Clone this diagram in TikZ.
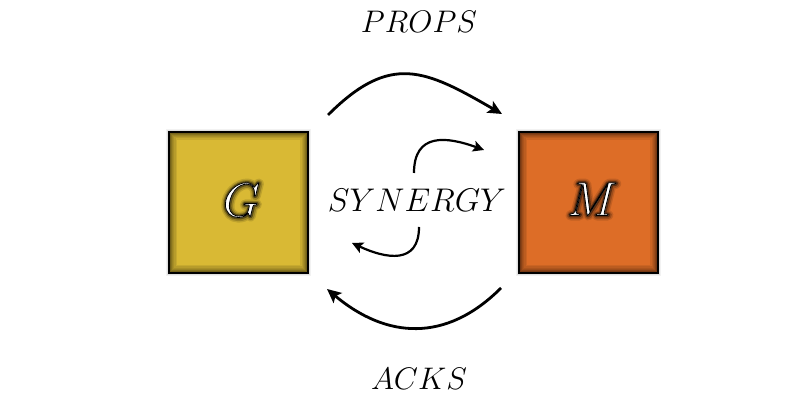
\RequirePackage{fix-cm}
\documentclass[tikz,border=0pt]{standalone}
\usetikzlibrary{arrows.meta}
\definecolor{gold}{RGB}{217,185,52}
\definecolor{orng}{RGB}{221,109,39}
\newcommand\strokedtext[2]{\special{pdf:literal direct #1 w 1 j 0 0 0 RG 2 Tr}#2\special{pdf:literal direct 0 Tr}}
\tikzset{
  box/.style={minimum width=69.5pt, minimum height=70.5pt, inner sep=0pt, outer sep=0pt},
  flow/.style={line width=1.4pt, -{Stealth[length=7pt,width=6.5pt,inset=1.5pt]}},
  swirl/.style={line width=1.1pt, -{Stealth[length=5.5pt,width=5.5pt,inset=1.2pt]}},
  word/.style={inner sep=0pt, anchor=base, font=\fontsize{16.4}{19}\selectfont},
  label/.style={inner sep=0pt, anchor=base, font=\fontsize{15.6}{18}\selectfont},
  letter/.style={inner sep=0pt, anchor=base, font=\fontsize{24}{26}\selectfont, text=white}
}
\begin{document}
\begin{tikzpicture}[x=0.5pt,y=0.5pt]
\useasboundingbox (0,0) rectangle (800,400);
\fill[white] (0,0) rectangle (800,400);
% boxes
\node[box, fill=gold] (G) at (238.5,197.5) {};
\node[box, fill=orng] (M) at (588.5,197.5) {};
\foreach \b in {G,M}{
  \draw[black, opacity=0.05, line width=3pt] (\b.south west) rectangle (\b.north east);
  \draw[black, opacity=0.07, line width=2pt] (\b.south west) rectangle (\b.north east);
  \begin{scope}
    \clip (\b.south west) rectangle (\b.north east);
    \foreach \w in {8,6.5,5,4,3,2.2}{
      \draw[black, opacity=0.08, line width=\w pt] (\b.south west) rectangle (\b.north east);
    }
  \end{scope}
  \draw[black, line width=1.1pt] (\b.south west) rectangle (\b.north east);
}
% glowing letters (blurred dark halo layers, then white letter)
\node[letter, opacity=0.12] (Gf) at (242,183) {\strokedtext{4.6}{$G$}};
\node[letter, opacity=0.2] (Gg) at (242,183) {\strokedtext{3.2}{$G$}};
\node[letter, opacity=0.4] (Gh) at (241.7,183.3) {\strokedtext{1.8}{$G$}};
\node[letter] (Gl) at (241.5,183.5) {\strokedtext{0.4}{$G$}};
\node[letter, opacity=0.12] (Mf) at (593,184) {\strokedtext{4.6}{$M$}};
\node[letter, opacity=0.2] (Mg) at (593,184) {\strokedtext{3.2}{$M$}};
\node[letter, opacity=0.4] (Mh) at (592.7,184.3) {\strokedtext{1.8}{$M$}};
\node[letter] (Ml) at (592.5,184.5) {\strokedtext{0.4}{$M$}};
% texts
\node[word] (syn) at (417,188.5) {$SYNERGY$};
\node[label] (props) at (419,367) {$PROPS$};
\node[label] (acks) at (419,10.5) {$ACKS$};
% connector end points
\coordinate (t1) at (328,285);
\coordinate (t2) at (502,286);
\coordinate (b1) at (501,112);
\coordinate (b2) at (327,111);
\coordinate (s1) at (414,227);
\coordinate (s2) at (484,250);
\coordinate (s3) at (419,173);
\coordinate (s4) at (352,157);
\draw[flow] (t1) to[out=45,in=150,looseness=1.3] (t2);
\draw[flow] (b1) to[out=225,in=-40,looseness=1.14] (b2);
\draw[swirl] (s1) to[out=90,in=160,looseness=1.4] (s2);
\draw[swirl] (s3) to[out=270,in=-25,looseness=1.4] (s4);
\end{tikzpicture}
\end{document}
